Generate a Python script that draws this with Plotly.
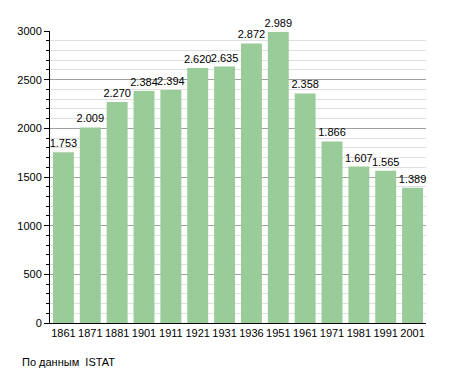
import plotly.graph_objects as go

years = ["1861", "1871", "1881", "1901", "1911", "1921", "1931", "1936", "1951", "1961", "1971", "1981", "1991", "2001"]
population = [1753, 2009, 2270, 2384, 2394, 2620, 2635, 2872, 2989, 2358, 1866, 1607, 1565, 1389]
labels = [f"{v:,}".replace(",", ".") for v in population]

fig = go.Figure(go.Bar(
    x=years, y=population, text=labels, textposition="outside",
    constraintext="none",
    marker=dict(color="#99cc99", line=dict(width=0)),
    textfont=dict(size=11, color="black", family="Liberation Sans, Arial"),
    cliponaxis=False,
))

fig.update_layout(
    width=447, height=365,
    margin=dict(l=42, r=29, t=23, b=50, autoexpand=False),
    plot_bgcolor="white", paper_bgcolor="white",
    bargap=0.22,
    showlegend=False,
    font=dict(family="Liberation Sans, Arial", size=11, color="black"),
    xaxis=dict(showline=True, linecolor="black", linewidth=1, ticks="", tickfont=dict(size=11),
               showgrid=False, fixedrange=True),
    yaxis=dict(range=[0, 3000], dtick=500, showline=True, linecolor="black", linewidth=1,
               ticks="outside", ticklen=5, tickcolor="black", gridcolor="#a0a0a0", gridwidth=1,
               zeroline=False, tickfont=dict(size=11),
               minor=dict(dtick=100, showgrid=True, gridcolor="#e0e0e0", ticks="outside",
                          ticklen=3, tickcolor="black")),
    annotations=[dict(text="По данным  ISTAT", xref="paper", yref="paper", x=-0.08, y=-0.134,
                      xanchor="left", yanchor="middle", showarrow=False, font=dict(size=11))],
)

fig.write_html("out.html")
